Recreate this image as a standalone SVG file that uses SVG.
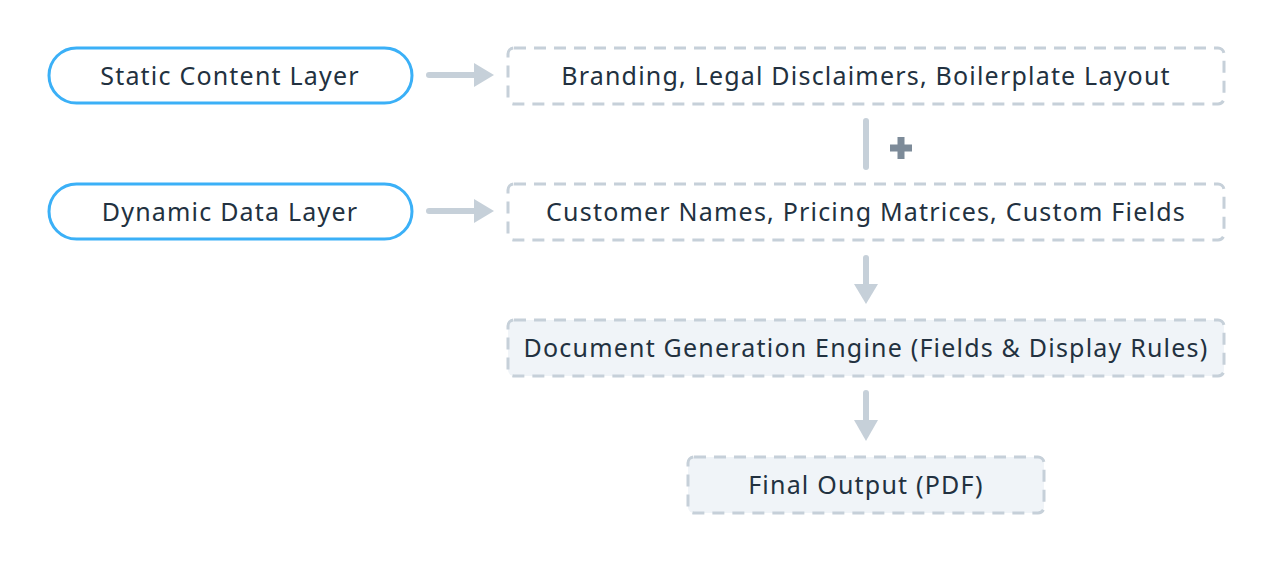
<svg xmlns="http://www.w3.org/2000/svg" width="1272" height="584" viewBox="0 0 1272 584">
<style>
text{font-family:"Noto Sans","DejaVu Sans",sans-serif;font-size:25px;letter-spacing:1.2px;fill:#223140;text-anchor:middle;dominant-baseline:central}
.pill{fill:#fff;stroke:#3bb0f7;stroke-width:3}
.box{fill:#fff;stroke:#c6d0d9;stroke-width:3;stroke-dasharray:12 8}
.box2{fill:#f0f4f8;stroke:#c6d0d9;stroke-width:3;stroke-dasharray:12 8}
.c{stroke:#c6d0d9;stroke-width:6;stroke-linecap:round;fill:none}
.h{fill:#c6d0d9}
</style>
<rect width="1272" height="584" fill="#fff"/>
<g id="static"><rect class="pill" x="49" y="48" width="363" height="55" rx="27.5"/><text x="230" y="75">Static Content Layer</text></g>
<g id="dynamic"><rect class="pill" x="49" y="184" width="363" height="55" rx="27.5"/><text x="230" y="211">Dynamic Data Layer</text></g>
<g id="branding"><rect class="box" x="508" y="48" width="716" height="56" rx="6"/><text x="866" y="75">Branding, Legal Disclaimers, Boilerplate Layout</text></g>
<g id="customer"><rect class="box" x="508" y="184" width="716" height="56" rx="6"/><text x="866" y="211">Customer Names, Pricing Matrices, Custom Fields</text></g>
<g id="engine"><rect class="box2" x="508" y="320" width="716" height="56" rx="6"/><text x="866" y="347">Document Generation Engine (Fields &amp; Display Rules)</text></g>
<g id="final"><rect class="box2" x="688" y="457" width="356" height="56" rx="6"/><text x="866" y="484">Final Output (PDF)</text></g>
<g id="connectors">
<line class="c" x1="429" y1="75" x2="478" y2="75"/><polygon class="h" points="474,63 494,75 474,87"/>
<line class="c" x1="429" y1="211" x2="478" y2="211"/><polygon class="h" points="474,199 494,211 474,223"/>
<line class="c" x1="866" y1="121" x2="866" y2="167"/>
<path d="M901,137 V159 M890,148 H912" stroke="#7d8b99" stroke-width="7"/>
<line class="c" x1="866" y1="258" x2="866" y2="288"/><polygon class="h" points="854,284 866,304 878,284"/>
<line class="c" x1="866" y1="393" x2="866" y2="424"/><polygon class="h" points="854,420 866,441 878,420"/>
</g>
</svg>
